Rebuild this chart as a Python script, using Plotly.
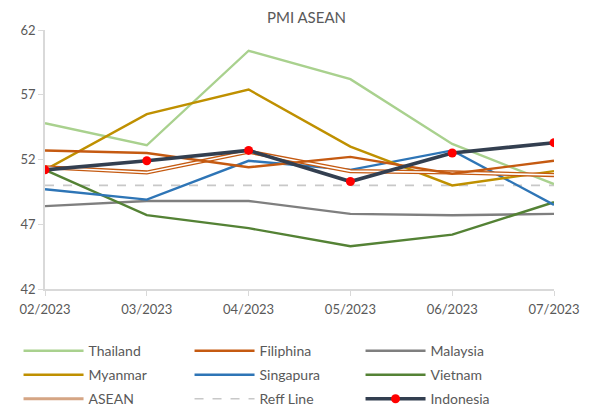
import plotly.graph_objects as go

months = ["02/2023", "03/2023", "04/2023", "05/2023", "06/2023", "07/2023"]
thailand = [54.8, 53.1, 60.4, 58.2, 53.2, 50.1]
filiphina = [52.7, 52.5, 51.4, 52.2, 50.9, 51.9]
malaysia = [48.4, 48.8, 48.8, 47.8, 47.7, 47.8]
myanmar = [51.2, 55.5, 57.4, 53.0, 50.0, 51.1]
singapura = [49.7, 48.9, 51.9, 51.2, 52.7, 48.5]
vietnam = [51.2, 47.7, 46.7, 45.3, 46.2, 48.7]
asean = [51.4, 51.0, 52.6, 51.1, 51.0, 50.8]
reff = [50, 50, 50, 50, 50, 50]
indonesia = [51.2, 51.9, 52.7, 50.3, 52.5, 53.3]

FONT = "Lato"
fig = go.Figure()

def line(name, y, color, width=2.4, rank=None, show=True, dash=None, legend="legend"):
    fig.add_trace(go.Scatter(
        x=months, y=y, name=name, mode="lines",
        line=dict(color=color, width=width, dash=dash),
        showlegend=show, legendrank=rank if rank else 1000, legend=legend,
        hoverinfo="skip"))

line("Malaysia", malaysia, "#7f7f7f", rank=3, legend="legend")
line("Reff Line", reff, "#c8c8c8", width=1.6, rank=8, dash="dash", legend="legend3")
line("Vietnam", vietnam, "#548235", rank=6, legend="legend2")
line("Singapura", singapura, "#2e75b6", rank=5, legend="legend2")
line("Thailand", thailand, "#a9d18e", rank=1, legend="legend")
line("Myanmar", myanmar, "#bf9000", rank=4, legend="legend2")
# ASEAN compound line (brown edges, white centre)
line("ASEAN", asean, "#c55a11", width=4.2, show=False)
line("ASEAN", asean, "#ffffff", width=1.6, show=False)
fig.add_trace(go.Scatter(x=[months[0]], y=[None], name="ASEAN", mode="lines",
                         line=dict(color="#d5a584", width=3), legendrank=7,
                         legend="legend3"))
line("Filiphina", filiphina, "#c55a11", rank=2, legend="legend")
fig.add_trace(go.Scatter(
    x=months, y=indonesia, name="Indonesia", mode="lines+markers",
    line=dict(color="#333f50", width=3.6),
    marker=dict(color="#ff0000", size=9, line=dict(color="#ff0000", width=0)),
    legendrank=9, legend="legend3", hoverinfo="skip"))

def leg(y):
    return dict(orientation="h", x=-0.052, xanchor="left", y=y, yanchor="top",
                entrywidth=96, entrywidthmode="pixels", itemwidth=60,
                font=dict(size=14, color="#595959", family=FONT),
                traceorder="normal", bgcolor="rgba(0,0,0,0)")

fig.update_layout(
    width=597, height=408,
    margin=dict(l=37, r=51, t=22, b=127, autoexpand=False),
    paper_bgcolor="white", plot_bgcolor="white",
    font=dict(family=FONT, color="#595959", size=13),
    title=dict(text="PMI ASEAN", x=0.5, xanchor="center", y=0.975, yanchor="middle",
               font=dict(family=FONT, size=15, color="#595959")),
    xaxis=dict(type="category", range=[0, 5], showgrid=False, showline=True,
               linecolor="#d9d9d9", linewidth=1.5, ticks="outside", ticklen=5,
               tickcolor="#d9d9d9", tickfont=dict(size=13, color="#595959"),
               ticklabelstandoff=3, zeroline=False, fixedrange=True),
    yaxis=dict(range=[42, 62], tickvals=[42, 47, 52, 57, 62], showgrid=False,
               showline=True, linecolor="#d9d9d9", linewidth=1.5, ticks="outside",
               ticklen=5, tickcolor="#d9d9d9", tickfont=dict(size=13, color="#595959"),
               zeroline=False, fixedrange=True),
    legend=leg(-0.178),
    legend2=leg(-0.2707),
    legend3=leg(-0.3633),
)

fig.write_html("out.html")
